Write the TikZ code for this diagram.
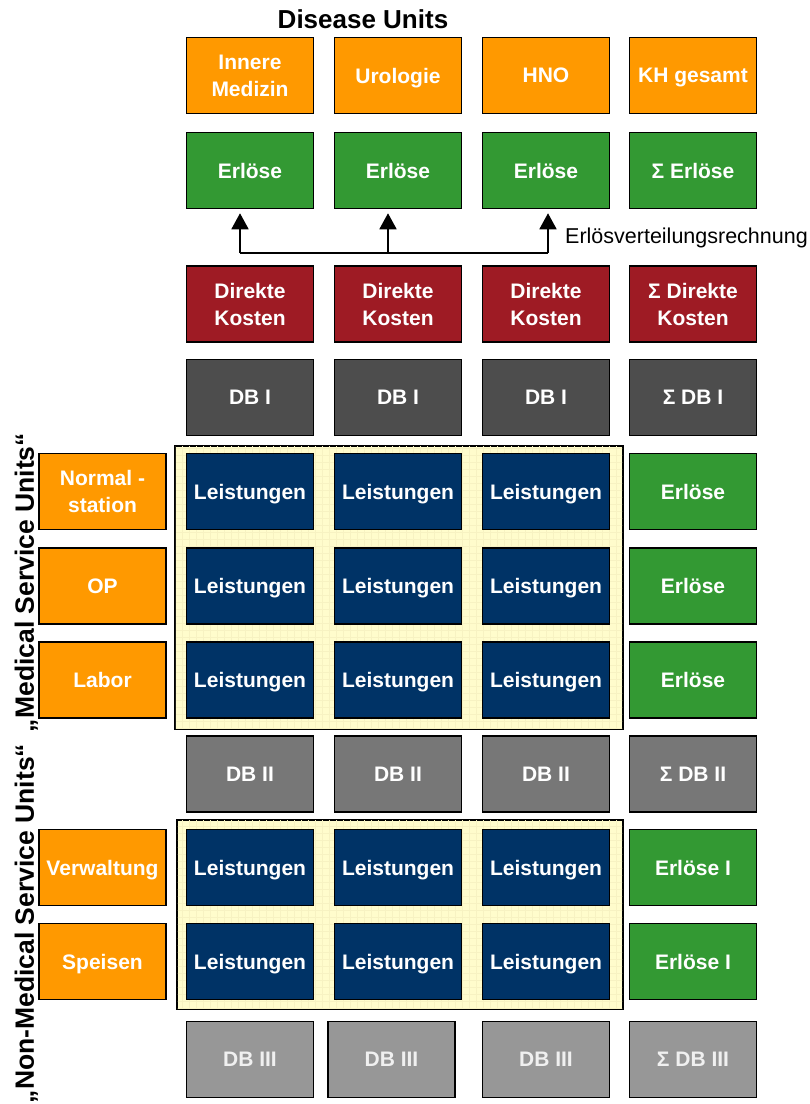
\documentclass[tikz,border=0pt]{standalone}
\usepackage{fontspec}
\setmainfont{Liberation Sans}
\usetikzlibrary{arrows.meta}
\definecolor{corange}{HTML}{FF9900}
\definecolor{cgreen}{HTML}{339933}
\definecolor{cred}{HTML}{9E1B24}
\definecolor{cdbone}{HTML}{4D4D4D}
\definecolor{cdbtwo}{HTML}{777777}
\definecolor{cdbthree}{HTML}{979797}
\definecolor{cnavy}{HTML}{003366}
\definecolor{cyellow}{HTML}{FFFCCC}
\definecolor{cgrid}{HTML}{F7F2C2}
\begin{document}
\begin{tikzpicture}[x=1pt,y=-1pt,
  box/.style={draw=black, line width=1.5pt, minimum width=127pt, minimum height=76pt,
    inner sep=0pt, text depth=0pt, text=white, align=center, font=\fontsize{21}{27}\selectfont\bfseries},
  orangebox/.style={box, fill=corange},
  greenbox/.style={box, fill=cgreen},
  redbox/.style={box, fill=cred},
  dbonebox/.style={box, fill=cdbone},
  dbtwobox/.style={box, fill=cdbtwo},
  dbthreebox/.style={box, fill=cdbthree, text=white!94!black},
  leistbox/.style={box, fill=cnavy},
  panel/.style={draw=black, line width=1.2pt, fill=cyellow, inner sep=0pt},
  sidelabel/.style={rotate=90, anchor=base, inner sep=0pt, font=\fontsize{26.5}{30}\selectfont\bfseries},
  conn/.style={line width=1.8pt, draw=black},
  arrowconn/.style={conn, -{Triangle[length=16pt,width=17pt]}, shorten >=4pt}
]
\useasboundingbox (0,0) rectangle (810,1104);

% title
\node[anchor=base, inner sep=0pt, font=\fontsize{26}{30}\selectfont\bfseries] (title) at (363,28) {Disease Units};

% yellow panels
\node[panel, minimum width=448pt, minimum height=283pt] (p1) at (399,587.5) {};
\node[panel, minimum width=446pt, minimum height=189pt] (p2) at (400,914.5) {};
\begin{scope}
  \clip ([xshift=1.5pt,yshift=1.5pt]p1.south west) rectangle ([xshift=-1.5pt,yshift=-1.5pt]p1.north east);
  \draw[cgrid, line width=0.4pt, step=7pt] (p1.south west) grid (p1.north east);
\end{scope}
\begin{scope}
  \clip ([xshift=1.5pt,yshift=1.5pt]p2.south west) rectangle ([xshift=-1.5pt,yshift=-1.5pt]p2.north east);
  \draw[cgrid, line width=0.4pt, step=7pt] (p2.south west) grid (p2.north east);
\end{scope}
\draw[line width=1.2pt] (p1.south west) rectangle (p1.north east);
\draw[line width=1.2pt] (p2.south west) rectangle (p2.north east);

% row 1: disease units
\node[orangebox] (u1) at (250,75.5) {Innere\\Medizin};
\node[orangebox] (u2) at (398,75.5) {Urologie};
\node[orangebox] (u3) at (546,75.5) {HNO};
\node[orangebox] (u4) at (693,75.5) {KH gesamt};

% row 2: Erlöse
\node[greenbox] (e1) at (250,170.5) {Erlöse};
\node[greenbox] (e2) at (398,170.5) {Erlöse};
\node[greenbox] (e3) at (546,170.5) {Erlöse};
\node[greenbox] (e4) at (693,170.5) {Σ Erlöse};

% row 3: Direkte Kosten
\node[redbox] (k1) at (250,304) {Direkte\\Kosten};
\node[redbox] (k2) at (398,304) {Direkte\\Kosten};
\node[redbox] (k3) at (546,304) {Direkte\\Kosten};
\node[redbox] (k4) at (693,304) {Σ Direkte\\Kosten};

% row 4: DB I
\node[dbonebox] (d11) at (250,397.5) {DB I};
\node[dbonebox] (d12) at (398,397.5) {DB I};
\node[dbonebox] (d13) at (546,397.5) {DB I};
\node[dbonebox] (d14) at (693,397.5) {Σ DB I};

% medical service units
\node[orangebox] (m1) at (102.5,491.5) {Normal -\\station};
\node[orangebox] (m2) at (102.5,586) {OP};
\node[orangebox] (m3) at (102.5,680) {Labor};
\foreach \r/\yy in {1/491.5,2/586,3/680}{
  \node[leistbox] (l\r1) at (250,\yy) {Leistungen};
  \node[leistbox] (l\r2) at (398,\yy) {Leistungen};
  \node[leistbox] (l\r3) at (546,\yy) {Leistungen};
}
\node[greenbox] (me1) at (693,491.5) {Erlöse};
\node[greenbox] (me2) at (693,586) {Erlöse};
\node[greenbox] (me3) at (693,680) {Erlöse};

% row DB II
\node[dbtwobox] (d21) at (250,774) {DB II};
\node[dbtwobox] (d22) at (398,774) {DB II};
\node[dbtwobox] (d23) at (546,774) {DB II};
\node[dbtwobox] (d24) at (693,774) {Σ DB II};

% non-medical service units
\node[orangebox] (n1) at (102.5,867.5) {Verwaltung};
\node[orangebox] (n2) at (102.5,961.5) {Speisen};
\foreach \r/\yy in {4/867.5,5/961.5}{
  \node[leistbox] (l\r1) at (250,\yy) {Leistungen};
  \node[leistbox] (l\r2) at (398,\yy) {Leistungen};
  \node[leistbox] (l\r3) at (546,\yy) {Leistungen};
}
\node[greenbox] (ne1) at (693,867.5) {Erlöse I};
\node[greenbox] (ne2) at (693,961.5) {Erlöse I};

% row DB III
\node[dbthreebox] (d31) at (250,1059.5) {DB III};
\node[dbthreebox] (d32) at (391.5,1059.5) {DB III};
\node[dbthreebox] (d33) at (546,1059.5) {DB III};
\node[dbthreebox] (d34) at (693,1059.5) {Σ DB III};

% side labels
\node[sidelabel] (ml) at (34,582.5) {„Medical Service Units“};
\node[sidelabel] (nl) at (34,923.5) {„Non-Medical Service Units“};

% Erlösverteilungsrechnung
\coordinate (j1) at (240,253);
\coordinate (j2) at (388,253);
\coordinate (j3) at (548,253);
\draw[conn] (j1) -- (j3);
\draw[arrowconn] (j1) -- (j1 |- e1.south);
\draw[arrowconn] (j2) -- (j2 |- e2.south);
\draw[arrowconn] (j3) -- (j3 |- e3.south);
\node[anchor=base west, inner sep=0pt, font=\fontsize{21.5}{24}\selectfont] (evr) at (565,243) {Erlösverteilungsrechnung};
\end{tikzpicture}
\end{document}
